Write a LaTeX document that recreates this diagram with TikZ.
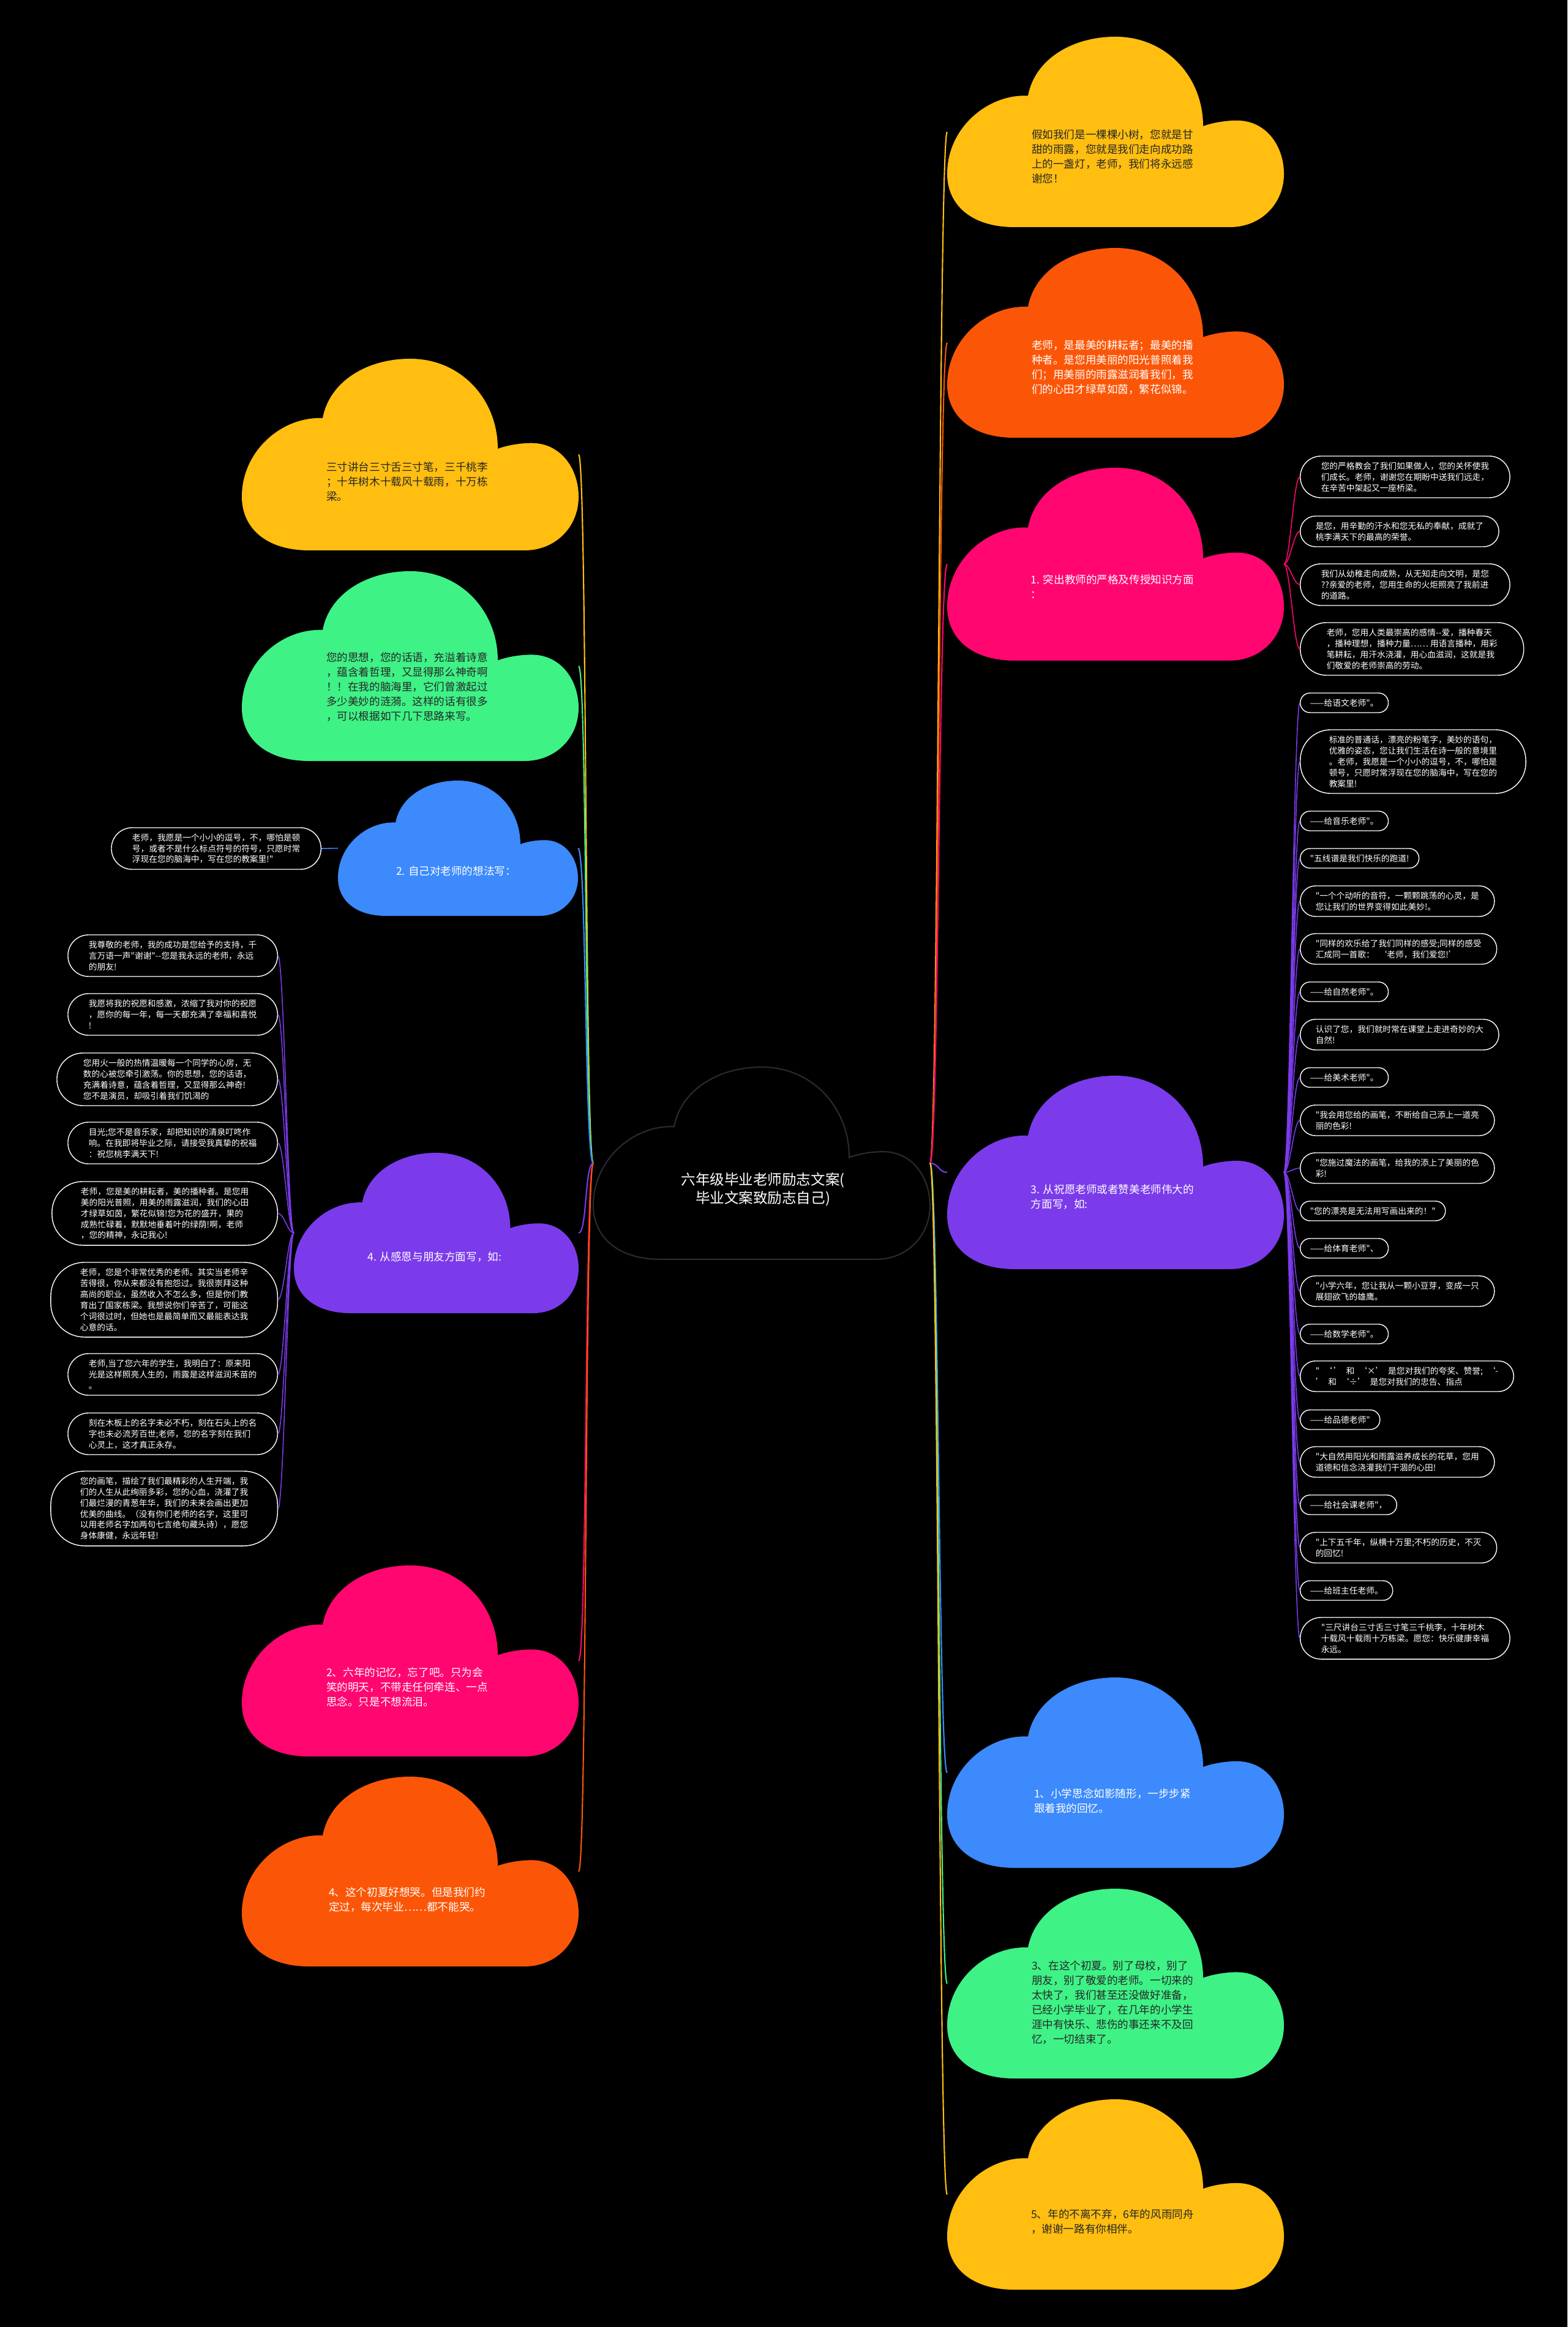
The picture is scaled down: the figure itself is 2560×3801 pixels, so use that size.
\documentclass[tikz,border=0pt]{standalone}
\usepackage{fontspec}
\usepackage{tikz}
\usetikzlibrary{positioning}
\newfontfamily\cjk{Noto Sans CJK SC}
\definecolor{cyellow}{HTML}{FFBE10}
\definecolor{corange}{HTML}{FB5607}
\definecolor{cpink}{HTML}{FF0670}
\definecolor{cblue}{HTML}{3C8AFC}
\definecolor{cgreen}{HTML}{3EF286}
\definecolor{cpurple}{HTML}{7B3BEB}
\definecolor{cedge}{HTML}{2B2B2B}

\begin{document}
\begin{tikzpicture}[
  x=0.01cm, y=-0.01cm,
  pics/cloudbg/.style={code={
    \path[#1] (20,100) .. controls (7,100) and (0,88) .. (0,72)
      .. controls (0,48) and (12,30) .. (24,31)
      .. controls (26,12) and (37,0) .. (50,0)
      .. controls (65,0) and (76,21) .. (76,47)
      .. controls (79,45) and (83,44) .. (86,44)
      .. controls (95,44) and (100,58) .. (100,72)
      .. controls (100,88) and (93,100) .. (84,100) -- cycle;
    \coordinate (-w) at (0,50);
    \coordinate (-e) at (100,50);
  }},
  ctext/.style={align=left, inner sep=0pt, font=\cjk\fontsize{5}{6.8}\selectfont},
  dark/.style={ctext, text=black!85},
  light/.style={ctext, text=white},
  pill/.style={rectangle, draw=white, line width=0.4pt, text=white, align=left,
    inner ysep=0.09cm, font=\cjk\fontsize{3.9}{5.1}\selectfont},
  pone/.style={pill, minimum height=0.32cm, rounded corners=0.158cm, inner xsep=0.16cm},
  ptwo/.style={pill, minimum height=0.50cm, rounded corners=0.248cm, inner xsep=0.25cm},
  pthree/.style={pill, minimum height=0.68cm, rounded corners=0.338cm, inner xsep=0.34cm},
  pfour/.style={pill, minimum height=0.86cm, rounded corners=0.428cm, inner xsep=0.43cm},
  pfive/.style={pill, minimum height=1.04cm, rounded corners=0.5cm, inner xsep=0.47cm},
  psix/.style={pill, minimum height=1.22cm, rounded corners=0.55cm, inner xsep=0.48cm},
  link/.style={line width=0.6pt},
  sublink/.style={line width=0.45pt}
]
\fill[black] (0,0) rectangle (2560,3801);

\pic[xscale=5.5, yscale=3.14] (rootc) at (969,1743) {cloudbg={fill=black, draw=cedge, line width=0.6pt}};
\node[light, align=center, font=\cjk\fontsize{6.7}{8.5}\selectfont] (root) at (1246,1943) {六年级毕业老师励志文案(\\毕业文案致励志自己)};

\pic[xscale=5.5, yscale=3.11] (r1c) at (1547,60) {cloudbg={fill=cyellow}};
\node[dark] (r1) at (1817,256) {假如我们是一棵棵小树，您就是甘\\甜的雨露，您就是我们走向成功路\\上的一盏灯，老师，我们将永远感\\谢您！};
\pic[xscale=5.5, yscale=3.10] (r2c) at (1547,405) {cloudbg={fill=corange}};
\node[light] (r2) at (1817,600) {老师，是最美的耕耘者；最美的播\\种者。是您用美丽的阳光普照着我\\们；用美丽的雨露滋润着我们，我\\们的心田才绿草如茵，繁花似锦。};
\pic[xscale=5.5, yscale=3.15] (r3c) at (1547,764) {cloudbg={fill=cpink}};
\node[light] (r3) at (1817,958) {1. 突出教师的严格及传授知识方面\\：};
\pic[xscale=5.5, yscale=3.16] (r4c) at (1547,1757) {cloudbg={fill=cpurple}};
\node[light] (r4) at (1817,1955) {3. 从祝愿老师或者赞美老师伟大的\\方面写，如:};
\pic[xscale=5.5, yscale=3.11] (r5c) at (1547,2740) {cloudbg={fill=cblue}};
\node[light] (r5) at (1817,2942) {1、小学思念如影随形，一步步紧\\跟着我的回忆。};
\pic[xscale=5.5, yscale=3.10] (r6c) at (1547,3085) {cloudbg={fill=cgreen}};
\node[dark] (r6) at (1817,3271) {3、在这个初夏。别了母校，别了\\朋友，别了敬爱的老师。一切来的\\太快了，我们甚至还没做好准备，\\已经小学毕业了，在几年的小学生\\涯中有快乐、悲伤的事还来不及回\\忆，一切结束了。};
\pic[xscale=5.5, yscale=3.11] (r7c) at (1547,3429) {cloudbg={fill=cyellow}};
\node[dark] (r7) at (1817,3629) {5、年的不离不弃，6年的风雨同舟\\，谢谢一路有你相伴。};

\pic[xscale=5.5, yscale=3.13] (l1c) at (395,586) {cloudbg={fill=cyellow}};
\node[dark] (l1) at (665,787) {三寸讲台三寸舌三寸笔，三千桃李\\；十年树木十载风十载雨，十万栋\\梁。};
\pic[xscale=5.5, yscale=3.10] (l2c) at (395,933) {cloudbg={fill=cgreen}};
\node[dark] (l2) at (665,1122) {您的思想，您的话语，充溢着诗意\\，蕴含着哲理，又显得那么神奇啊\\！！在我的脑海里，它们曾激起过\\多少美妙的涟漪。这样的话有很多\\，可以根据如下几下思路来写。};
\pic[xscale=3.92, yscale=2.21] (l3c) at (552,1275) {cloudbg={fill=cblue}};
\node[light] (l3) at (745,1423) {2. 自己对老师的想法写：};
\pic[xscale=4.65, yscale=2.62] (l4c) at (480,1883) {cloudbg={fill=cpurple}};
\node[light] (l4) at (710,2053) {4. 从感恩与朋友方面写，如:};
\pic[xscale=5.5, yscale=3.12] (l5c) at (395,2557) {cloudbg={fill=cpink}};
\node[light] (l5) at (665,2756) {2、六年的记忆，忘了吧。只为会\\笑的明天，不带走任何牵连、一点\\思念。只是不想流泪。};
\pic[xscale=5.5, yscale=3.10] (l6c) at (395,2902) {cloudbg={fill=corange}};
\node[light] (l6) at (665,3103) {4、这个初夏好想哭。但是我们约\\定过，每次毕业……都不能哭。};

\node[pthree, anchor=west] (p1) at (2123,779) {您的严格教会了我们如果做人，您的关怀使我\\们成长。老师，谢谢您在期盼中送我们远走，\\在辛苦中架起又一座桥梁。};
\node[ptwo, anchor=west] (p2) at (2123,868) {是您，用辛勤的汗水和您无私的奉献，成就了\\桃李满天下的最高的荣誉。};
\node[pthree, anchor=west] (p3) at (2123,955) {我们从幼稚走向成熟，从无知走向文明，是您\\??亲爱的老师，您用生命的火炬照亮了我前进\\的道路。};
\node[pfour, anchor=west] (p4) at (2123,1060) {老师，您用人类最崇高的感情-{}-爱，播种春天\\，播种理想，播种力量…… 用语言播种，用彩\\笔耕耘，用汗水浇灌，用心血滋润，这就是我\\们敬爱的老师崇高的劳动。};

\node[pone, anchor=west] (c1) at (2123,1148) {——给语文老师"。};
\node[pfive, anchor=west] (c2) at (2123,1244) {标准的普通话，漂亮的粉笔字，美妙的语句，\\优雅的姿态，您让我们生活在诗一般的意境里\\。老师，我愿是一个小小的逗号，不，哪怕是\\顿号，只愿时常浮现在您的脑海中，写在您的\\教案里!};
\node[pone, anchor=west] (c3) at (2123,1341) {——给音乐老师"。};
\node[pone, anchor=west] (c4) at (2123,1402) {"五线谱是我们快乐的跑道!};
\node[ptwo, anchor=west] (c5) at (2123,1472) {"一个个动听的音符，一颗颗跳荡的心灵，是\\您让我们的世界变得如此美妙!。};
\node[ptwo, anchor=west] (c6) at (2123,1550) {"同样的欢乐给了我们同样的感受;同样的感受\\汇成同一首歌：\enspace‘老师，我们爱您!’};
\node[pone, anchor=west] (c7) at (2123,1620) {——给自然老师"。};
\node[ptwo, anchor=west] (c8) at (2123,1690) {认识了您，我们就时常在课堂上走进奇妙的大\\自然!};
\node[pone, anchor=west] (c9) at (2123,1760) {——给美术老师"。};
\node[ptwo, anchor=west] (c10) at (2123,1830) {"我会用您给的画笔，不断给自己添上一道亮\\丽的色彩!};
\node[ptwo, anchor=west] (c11) at (2123,1908) {"您施过魔法的画笔，给我的添上了美丽的色\\彩!};
\node[pone, anchor=west] (c12) at (2123,1978) {"您的漂亮是无法用写画出来的！"};
\node[pone, anchor=west] (c13) at (2123,2039) {——给体育老师"、};
\node[ptwo, anchor=west] (c14) at (2123,2109) {"小学六年，您让我从一颗小豆芽，变成一只\\展翅欲飞的雄鹰。};
\node[pone, anchor=west] (c15) at (2123,2179) {——给数学老师"。};
\node[ptwo, anchor=west] (c16) at (2123,2248) {"\enspace‘\,’\enspace 和\enspace‘×’\enspace 是您对我们的夸奖、赞誉;\enspace‘-\\’\enspace 和\enspace‘÷’\enspace 是您对我们的忠告、指点};
\node[pone, anchor=west] (c17) at (2123,2319) {——给品德老师"};
\node[ptwo, anchor=west] (c18) at (2123,2388) {"大自然用阳光和雨露滋养成长的花草，您用\\道德和信念浇灌我们干涸的心田!};
\node[pone, anchor=west] (c19) at (2123,2458) {——给社会课老师"，};
\node[ptwo, anchor=west] (c20) at (2123,2528) {"上下五千年，纵横十万里;不朽的历史，不灭\\的回忆!};
\node[pone, anchor=west] (c21) at (2123,2598) {——给班主任老师。};
\node[pthree, anchor=west] (c22) at (2123,2676) {"三尺讲台三寸舌三寸笔三千桃李，十年树木\\十载风十载雨十万栋梁。愿您：快乐健康幸福\\永远。};

\node[pthree, anchor=east] (l3a) at (525,1386) {老师，我愿是一个小小的逗号，不，哪怕是顿\\号，或者不是什么标点符号的符号，只愿时常\\浮现在您的脑海中，写在您的教案里!"};

\node[pthree, anchor=east] (k1) at (454,1561) {我尊敬的老师，我的成功是您给予的支持，千\\言万语一声"谢谢"-{}-您是我永远的老师，永远\\的朋友!};
\node[pthree, anchor=east] (k2) at (454,1657) {我愿将我的祝愿和感激，浓缩了我对你的祝愿\\，愿你的每一年，每一天都充满了幸福和喜悦\\!};
\node[pfour, anchor=east] (k3) at (454,1763) {您用火一般的热情温暖每一个同学的心房，无\\数的心被您牵引激荡。你的思想，您的话语，\\充满着诗意，蕴含着哲理，又显得那么神奇!\\您不是演员，却吸引着我们饥渴的};
\node[pthree, anchor=east] (k4) at (454,1867) {目光;您不是音乐家，却把知识的清泉叮咚作\\响。在我即将毕业之际，请接受我真挚的祝福\\：祝您桃李满天下!};
\node[pfive, anchor=east] (k5) at (454,1982) {老师，您是美的耕耘者，美的播种者。是您用\\美的阳光普照，用美的雨露滋润，我们的心田\\才绿草如茵，繁花似锦!您为花的盛开，果的\\成熟忙碌着，默默地垂着叶的绿荫!啊，老师\\，您的精神，永记我心!};
\node[psix, anchor=east] (k6) at (454,2123) {老师，您是个非常优秀的老师。其实当老师辛\\苦得很，你从来都没有抱怨过。我很崇拜这种\\高尚的职业，虽然收入不怎么多，但是你们教\\育出了国家栋梁。我想说你们辛苦了，可能这\\个词很过时，但她也是最简单而又最能表达我\\心意的话。};
\node[pthree, anchor=east] (k7) at (454,2245) {老师,当了您六年的学生，我明白了：原来阳\\光是这样照亮人生的，雨露是这样滋润禾苗的\\。};
\node[pthree, anchor=east] (k8) at (454,2342) {刻在木板上的名字未必不朽，刻在石头上的名\\字也未必流芳百世;老师，您的名字刻在我们\\心灵上，这才真正永存。};
\node[psix, anchor=east] (k9) at (454,2464) {您的画笔，描绘了我们最精彩的人生开端，我\\们的人生从此绚丽多彩，您的心血，浇灌了我\\们最烂漫的青葱年华，我们的未来会画出更加\\优美的曲线。（没有你们老师的名字，这里可\\以用老师名字加两句七言绝句藏头诗），愿您\\身体康健，永远年轻!};

\draw[link, cyellow] (rootc-e) .. controls +(14,0) and +(-14,0) .. (r1c-w);
\draw[link, corange] (rootc-e) .. controls +(14,0) and +(-14,0) .. (r2c-w);
\draw[link, cpink] (rootc-e) .. controls +(14,0) and +(-14,0) .. (r3c-w);
\draw[link, cpurple] (rootc-e) .. controls +(14,0) and +(-14,0) .. (r4c-w);
\draw[link, cblue] (rootc-e) .. controls +(14,0) and +(-14,0) .. (r5c-w);
\draw[link, cgreen] (rootc-e) .. controls +(14,0) and +(-14,0) .. (r6c-w);
\draw[link, cyellow] (rootc-e) .. controls +(14,0) and +(-14,0) .. (r7c-w);
\draw[link, cyellow] (rootc-w) .. controls +(-14,0) and +(14,0) .. (l1c-e);
\draw[link, cgreen] (rootc-w) .. controls +(-14,0) and +(14,0) .. (l2c-e);
\draw[link, cblue] (rootc-w) .. controls +(-14,0) and +(14,0) .. (l3c-e);
\draw[link, cpurple] (rootc-w) .. controls +(-14,0) and +(14,0) .. (l4c-e);
\draw[link, cpink] (rootc-w) .. controls +(-14,0) and +(14,0) .. (l5c-e);
\draw[link, corange] (rootc-w) .. controls +(-14,0) and +(14,0) .. (l6c-e);

\draw[sublink, cpink] (r3c-e) .. controls +(10,0) and +(-10,0) .. (p1.west);
\draw[sublink, cpink] (r3c-e) .. controls +(10,0) and +(-10,0) .. (p2.west);
\draw[sublink, cpink] (r3c-e) .. controls +(10,0) and +(-10,0) .. (p3.west);
\draw[sublink, cpink] (r3c-e) .. controls +(10,0) and +(-10,0) .. (p4.west);

\draw[sublink, cpurple] (r4c-e) .. controls +(10,0) and +(-10,0) .. (c1.west);
\draw[sublink, cpurple] (r4c-e) .. controls +(10,0) and +(-10,0) .. (c2.west);
\draw[sublink, cpurple] (r4c-e) .. controls +(10,0) and +(-10,0) .. (c3.west);
\draw[sublink, cpurple] (r4c-e) .. controls +(10,0) and +(-10,0) .. (c4.west);
\draw[sublink, cpurple] (r4c-e) .. controls +(10,0) and +(-10,0) .. (c5.west);
\draw[sublink, cpurple] (r4c-e) .. controls +(10,0) and +(-10,0) .. (c6.west);
\draw[sublink, cpurple] (r4c-e) .. controls +(10,0) and +(-10,0) .. (c7.west);
\draw[sublink, cpurple] (r4c-e) .. controls +(10,0) and +(-10,0) .. (c8.west);
\draw[sublink, cpurple] (r4c-e) .. controls +(10,0) and +(-10,0) .. (c9.west);
\draw[sublink, cpurple] (r4c-e) .. controls +(10,0) and +(-10,0) .. (c10.west);
\draw[sublink, cpurple] (r4c-e) .. controls +(10,0) and +(-10,0) .. (c11.west);
\draw[sublink, cpurple] (r4c-e) .. controls +(10,0) and +(-10,0) .. (c12.west);
\draw[sublink, cpurple] (r4c-e) .. controls +(10,0) and +(-10,0) .. (c13.west);
\draw[sublink, cpurple] (r4c-e) .. controls +(10,0) and +(-10,0) .. (c14.west);
\draw[sublink, cpurple] (r4c-e) .. controls +(10,0) and +(-10,0) .. (c15.west);
\draw[sublink, cpurple] (r4c-e) .. controls +(10,0) and +(-10,0) .. (c16.west);
\draw[sublink, cpurple] (r4c-e) .. controls +(10,0) and +(-10,0) .. (c17.west);
\draw[sublink, cpurple] (r4c-e) .. controls +(10,0) and +(-10,0) .. (c18.west);
\draw[sublink, cpurple] (r4c-e) .. controls +(10,0) and +(-10,0) .. (c19.west);
\draw[sublink, cpurple] (r4c-e) .. controls +(10,0) and +(-10,0) .. (c20.west);
\draw[sublink, cpurple] (r4c-e) .. controls +(10,0) and +(-10,0) .. (c21.west);
\draw[sublink, cpurple] (r4c-e) .. controls +(10,0) and +(-10,0) .. (c22.west);

\draw[sublink, cblue] (l3c-w) -- (l3a.east);

\draw[sublink, cpurple] (l4c-w) .. controls +(-10,0) and +(10,0) .. (k1.east);
\draw[sublink, cpurple] (l4c-w) .. controls +(-10,0) and +(10,0) .. (k2.east);
\draw[sublink, cpurple] (l4c-w) .. controls +(-10,0) and +(10,0) .. (k3.east);
\draw[sublink, cpurple] (l4c-w) .. controls +(-10,0) and +(10,0) .. (k4.east);
\draw[sublink, cpurple] (l4c-w) .. controls +(-10,0) and +(10,0) .. (k5.east);
\draw[sublink, cpurple] (l4c-w) .. controls +(-10,0) and +(10,0) .. (k6.east);
\draw[sublink, cpurple] (l4c-w) .. controls +(-10,0) and +(10,0) .. (k7.east);
\draw[sublink, cpurple] (l4c-w) .. controls +(-10,0) and +(10,0) .. (k8.east);
\draw[sublink, cpurple] (l4c-w) .. controls +(-10,0) and +(10,0) .. (k9.east);
\end{tikzpicture}
\end{document}
